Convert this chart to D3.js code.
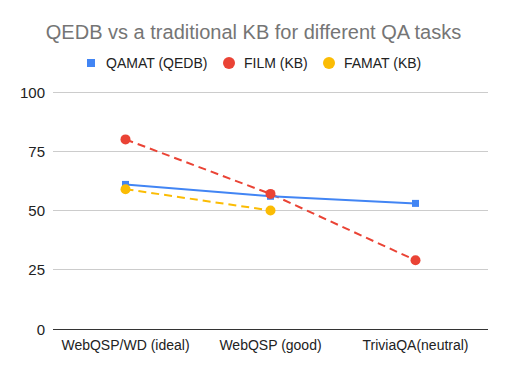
<!DOCTYPE html>
<html><head><meta charset="utf-8">
<script src="https://cdn.jsdelivr.net/npm/d3@7"></script>
<style>body{margin:0;background:#fff}svg{display:block;font-family:"Liberation Sans",Arial,sans-serif}</style>
</head><body><svg id="c" width="507" height="371"></svg>
<script>
const categories = ["WebQSP/WD (ideal)", "WebQSP (good)", "TriviaQA(neutral)"];
const qamat = [61, 56, 53];
const film = [80, 57, 29];
const famat = [59, 50, null];
const yTicks = [0, 25, 50, 75, 100];
const seriesNames = ["QAMAT (QEDB)", "FILM (KB)", "FAMAT (KB)"];
const colors = ["#4285F4", "#EA4335", "#FBBC04"];

const svg = d3.select("#c");
const x = d3.scaleBand().domain(categories).range([53, 488]);
const y = d3.scaleLinear().domain([0, 100]).range([329, 92]);

svg.append("text").attr("x", 253.5).attr("y", 39).attr("text-anchor", "middle")
  .attr("font-size", 20).attr("fill", "#757575").text("QEDB vs a traditional KB for different QA tasks");

// grid
svg.append("g").selectAll("line").data(yTicks.filter(d => d > 0)).join("line")
  .attr("x1", 53).attr("x2", 488).attr("y1", d => y(d)).attr("y2", d => y(d))
  .attr("stroke", "#cccccc").attr("stroke-width", 1).attr("shape-rendering", "crispEdges");
svg.append("line").attr("x1", 53).attr("x2", 488).attr("y1", y(0)).attr("y2", y(0))
  .attr("stroke", "#333").attr("stroke-width", 1).attr("shape-rendering", "crispEdges");

svg.append("g").selectAll("text").data(yTicks).join("text")
  .attr("x", 45).attr("y", d => y(d) + 5.5).attr("text-anchor", "end")
  .attr("font-size", 15).attr("fill", "#222").text(d => d);

svg.append("g").selectAll("text").data(categories).join("text")
  .attr("x", d => x(d) + x.bandwidth() / 2).attr("y", 350).attr("text-anchor", "middle")
  .attr("font-size", 14).attr("fill", "#222").text(d => d);

const cx = (d, i) => x(categories[i]) + x.bandwidth() / 2;
const line = d3.line().defined(d => d != null).x((d, i) => cx(d, i)).y(d => y(d));

// series
svg.append("path").datum(famat).attr("d", line).attr("fill", "none").attr("stroke", colors[2])
  .attr("stroke-width", 2).attr("stroke-dasharray", "8,5");
svg.append("path").datum(film).attr("d", line).attr("fill", "none").attr("stroke", colors[1])
  .attr("stroke-width", 2).attr("stroke-dasharray", "8,5");
svg.append("path").datum(qamat).attr("d", line).attr("fill", "none").attr("stroke", colors[0])
  .attr("stroke-width", 2);

svg.append("g").selectAll("rect").data(qamat).join("rect")
  .attr("x", (d, i) => cx(d, i) - 3.5).attr("y", d => y(d) - 3.5).attr("width", 7).attr("height", 7)
  .attr("fill", colors[0]);
svg.append("g").selectAll("circle").data(film).join("circle")
  .attr("cx", (d, i) => cx(d, i)).attr("cy", d => y(d)).attr("r", 5).attr("fill", colors[1]);
svg.append("g").selectAll("circle").data(famat.map((v, i) => ({v, i})).filter(d => d.v != null)).join("circle")
  .attr("cx", d => cx(d.v, d.i)).attr("cy", d => y(d.v)).attr("r", 5).attr("fill", colors[2]);

// legend
const lg = svg.append("g");
const lx = [91, 229, 329];
seriesNames.forEach((n, i) => {
  if (i === 0) lg.append("rect").attr("x", lx[i] - 4).attr("y", 59).attr("width", 8).attr("height", 8).attr("fill", colors[i]);
  else lg.append("circle").attr("cx", lx[i]).attr("cy", 63).attr("r", 6).attr("fill", colors[i]);
  lg.append("text").attr("x", lx[i] + 15).attr("y", 68).attr("font-size", 14).attr("fill", "#222").text(n);
});
</script></body></html>
